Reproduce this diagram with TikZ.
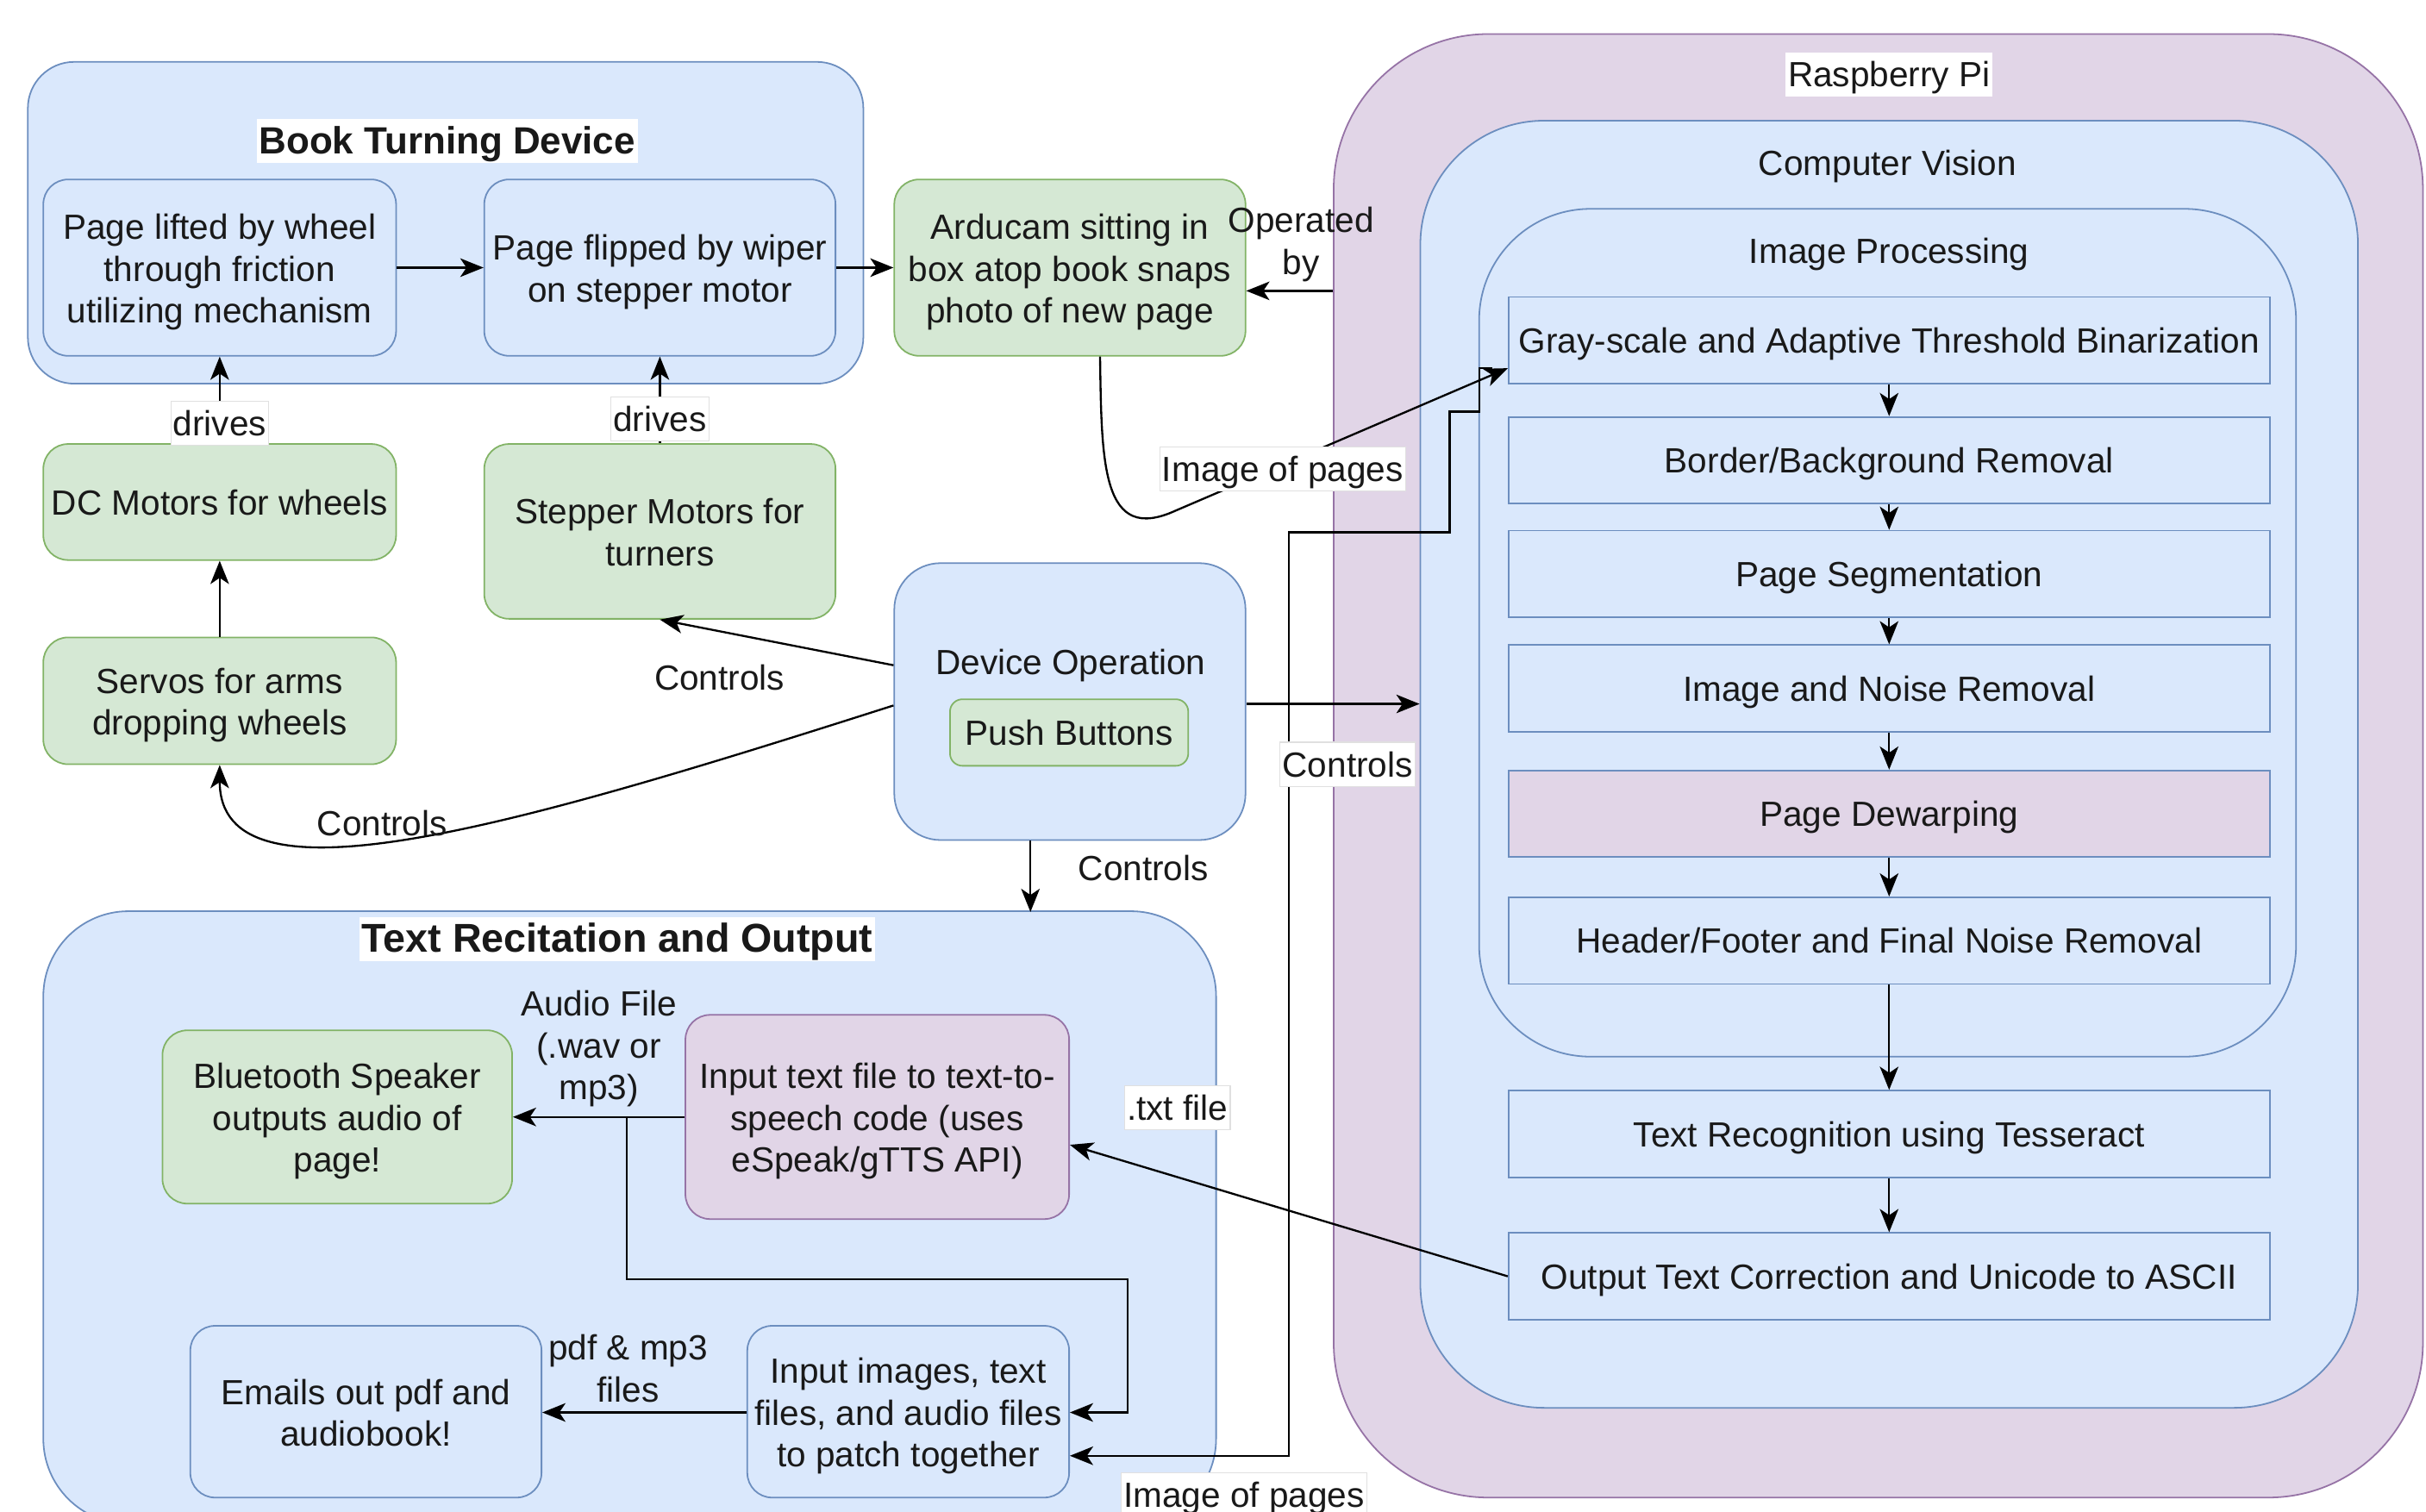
\documentclass[tikz,border=0pt]{standalone}
\usepackage{fontspec}
\setmainfont{Liberation Sans}
\usetikzlibrary{arrows.meta,calc}
\definecolor{bfill}{HTML}{DAE8FC}
\definecolor{bstroke}{HTML}{6C8EBF}
\definecolor{gfill}{HTML}{D5E8D4}
\definecolor{gstroke}{HTML}{82B366}
\definecolor{pfill}{HTML}{E1D5E7}
\definecolor{pstroke}{HTML}{9673A6}
\newcommand\fsz{\fontsize{22.6}{27}\selectfont}
\newcommand\fl{\rule{0pt}{23.5pt}}
\tikzset{
  txt/.style={font=\fsz, align=center, inner sep=0pt, text=black!90,
    execute at begin node={\rule[0pt]{0pt}{22.5pt}},
    execute at end node={\rule[-6pt]{0pt}{6pt}}},
  bbox/.style={txt, draw=bstroke, fill=bfill, line width=1pt, rounded corners=16pt},
  gbox/.style={txt, draw=gstroke, fill=gfill, line width=1pt, rounded corners=16pt},
  pbox/.style={txt, draw=pstroke, fill=pfill, line width=1pt, rounded corners=16pt},
  stepbox/.style={txt, rectangle, draw=bstroke, fill=bfill, line width=1pt, minimum width=492pt, minimum height=56pt},
  arr/.style={-{Stealth[length=15pt,width=12pt,inset=4pt]}, line width=1.3pt},
  lbl/.style={txt, fill=white, draw=black!12, line width=0.6pt, inner xsep=1.5pt, inner ysep=0pt},
  ttl/.style={txt, fill=white, inner xsep=1.5pt, inner ysep=0pt},
  bttl/.style={txt, fill=white, inner xsep=1.5pt, inner ysep=0pt, font=\fontsize{24.5}{29}\selectfont\bfseries},
}
\begin{document}
\begin{tikzpicture}[x=1pt,y=-1pt]
\useasboundingbox (0,0) rectangle (1568,977);
\clip (0,0) rectangle (1568,977);

% ---------- containers ----------
\node[bbox, rounded corners=30pt, minimum width=540pt, minimum height=208pt] (btd) at (288,144) {};
\node[bttl] (btdt) at (289,91) {Book Turning Device};

\node[pbox, rounded corners=100pt, minimum width=704pt, minimum height=946pt] (rpi) at (1214,495) {};
\node[ttl] (rpit) at (1221,48) {Raspberry Pi};
\node[bbox, rounded corners=80pt, minimum width=606pt, minimum height=832pt] (cv) at (1221,494) {};
\node[txt] (cvt) at (1220,105) {Computer Vision};
\node[bbox, rounded corners=72pt, minimum width=528pt, minimum height=548pt] (ip) at (1220,409) {};
\node[txt] (ipt) at (1221,162) {Image Processing};

\node[bbox, rounded corners=55pt, minimum width=758pt, minimum height=396pt] (trc) at (407,787) {};
\node[bttl, font=\fontsize{26}{31}\selectfont\bfseries] (trct) at (399,607) {Text Recitation and Output};

% ---------- book turning ----------
\node[bbox, minimum width=228pt, minimum height=114pt] (pa) at (142,173) {\fl Page lifted by wheel\\through friction\\utilizing mechanism};
\node[bbox, minimum width=227pt, minimum height=114pt] (pb) at (426.5,173) {\fl Page flipped by wiper\\on stepper motor};
\node[gbox, minimum width=227pt, minimum height=114pt] (ard) at (691.5,173) {\fl Arducam sitting in\\box atop book snaps\\photo of new page};

\node[gbox, minimum width=228pt, minimum height=75pt] (dc) at (142,324.5) {DC Motors for wheels};
\node[gbox, minimum width=227pt, minimum height=113pt] (stp) at (426.5,343.5) {\fl Stepper Motors for\\turners};
\node[gbox, minimum width=228pt, minimum height=82pt] (srv) at (142,453) {\fl Servos for arms\\dropping wheels};

\node[bbox, rounded corners=30pt, minimum width=227pt, minimum height=179pt] (dev) at (691.5,453.5) {};
\node[txt] (devt) at (692,428) {Device Operation};
\node[gbox, rounded corners=8pt, minimum width=154pt, minimum height=43pt] (push) at (691,473.5) {Push Buttons};

% ---------- computer vision steps ----------
\node[stepbox] (s1) at (1221,220) {Gray-scale and Adaptive Threshold Binarization};
\node[stepbox] (s2) at (1221,297.5) {Border/Background Removal};
\node[stepbox] (s3) at (1221,371) {Page Segmentation};
\node[stepbox] (s4) at (1221,445) {Image and Noise Removal};
\node[stepbox, fill=pfill] (s5) at (1221,526) {Page Dewarping};
\node[stepbox] (s6) at (1221,608) {Header/Footer and Final Noise Removal};
\node[stepbox] (s7) at (1221,733) {Text Recognition using Tesseract};
\node[stepbox] (s8) at (1221,825) {Output Text Correction and Unicode to ASCII};

% ---------- text recitation ----------
\node[gbox, minimum width=226pt, minimum height=112pt] (bt) at (218,722) {\fl Bluetooth Speaker\\outputs audio of\\page!};
\node[pbox, minimum width=248pt, minimum height=132pt] (tts) at (567,722) {\fl Input text file to text-to-\\speech code (uses\\eSpeak/gTTS API)};
\node[bbox, minimum width=227pt, minimum height=111pt] (em) at (236.5,912.5) {\fl Emails out pdf and\\audiobook!};
\node[bbox, minimum width=208pt, minimum height=111pt] (inp) at (587,912.5) {\fl Input images, text\\files, and audio files\\to patch together};

% ---------- connectors ----------
\draw[arr] (pa.east) -- (pb.west);
\draw[arr] (pb.east) -- (ard.west);
\draw[arr] (dc.north) -- (pa.south) node[lbl, pos=0.23] (l1) {drives};
\draw[arr] (stp.north) -- (pb.south) node[lbl, pos=0.28] (l2) {drives};
\draw[arr] (srv.north) -- (dc.south);

\draw[arr] ($(dev.west)+(0,-23.5)$) -- (stp.south);
\node[txt] (l3) at (465,438) {Controls};
\draw[arr] ($(dev.west)+(0,2.5)$) .. controls (330,535) and (142,590) .. (srv.south);
\node[txt] (l4) at (247,532) {Controls};
\draw[arr] ($(dev.south)+(-25.5,0)$) -- ($(dev.south)+(-25.5,46)$) coordinate (trcin);
\node[txt] (l5) at (739,561) {Controls};

\coordinate (opst) at ($(rpi.west)+(0,-307)$);
\draw[arr] (opst) -- (opst -| ard.east);
\node[txt] (l6) at (841,155) {\fl Operated\\by};

% image of pages (curve from Arducam)
\draw[arr] ($(ard.south)+(19.5,0)$) .. controls (712,300) and (712,352) .. (760,330) -- ($(s1.west)+(0,18)$);
\node[lbl] (l7) at (829,303) {Image of pages};

% image of pages (orthogonal, to input box)
\coordinate (ipst) at ($(s1.west)+(-10,18)$);
\draw[arr] (ipst) -- (956,238) -- (956,266) -- (937,266) -- (937,344) -- (833,344) -- (833,941) -- ($(inp.east)+(0,28.5)$);
\node[lbl] (l8) at (804,966) {Image of pages};

% device op to CV
\coordinate (dvst) at ($(dev.east)+(0,1.5)$);
\draw[arr] (dvst) -- (dvst -| cv.west);
\node[lbl] (l9) at (871,494) {Controls};

% CV steps
\draw[arr] (s1.south) -- (s2.north);
\draw[arr] (s2.south) -- (s3.north);
\draw[arr] (s3.south) -- (s4.north);
\draw[arr] (s4.south) -- (s5.north);
\draw[arr] (s5.south) -- (s6.north);
\draw[arr] (s6.south) -- (s7.north);
\draw[arr] (s7.south) -- (s8.north);

% txt file
\draw[arr] (s8.west) -- ($(tts.east)+(0,18)$);
\node[lbl] (l10) at (761,716) {.txt file};

% audio
\draw[arr] (tts.west) -- (bt.east);
\node[txt] (l11) at (387,675) {\fl Audio File\\(.wav or\\mp3)};
\coordinate (br) at (405,722);
\draw[arr] (br) -- (405,827) -- (729,827) -- (729,913) -- ($(inp.east)+(0,0.5)$);

% pdf
\draw[arr] ($(inp.west)+(0,0.5)$) -- ($(em.east)+(0,0.5)$);
\node[txt] (l12) at (406,884) {\fl pdf \& mp3\\files};
\end{tikzpicture}
\end{document}
